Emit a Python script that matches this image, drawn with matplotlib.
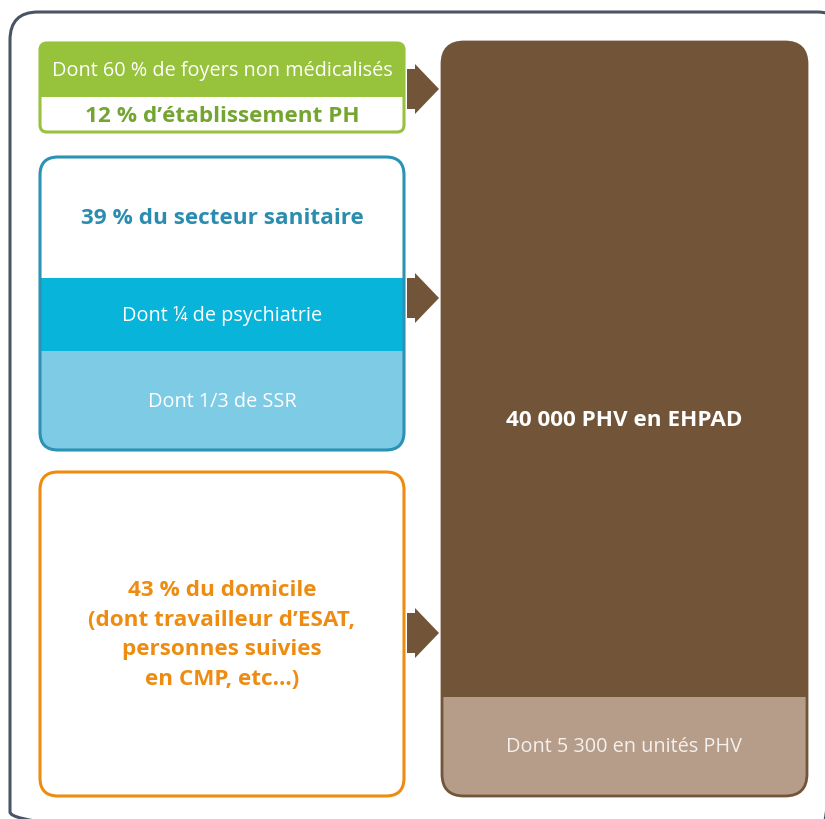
import matplotlib
matplotlib.use("Agg")
import matplotlib.pyplot as plt
from matplotlib.patches import FancyBboxPatch, Rectangle, Polygon

plt.rcParams['font.family'] = ['Open Sans', 'DejaVu Sans']

# Text content
green_labels = ["Dont 60 % de foyers non médicalisés", "12 % d’établissement PH"]
blue_labels = ["39 % du secteur sanitaire", "Dont ¼ de psychiatrie", "Dont 1/3 de SSR"]
orange_labels = ["43 % du domicile", "(dont travailleur d’ESAT,", "personnes suivies", "en CMP, etc…)"]
brown_labels = ["40 000 PHV en EHPAD", "Dont 5 300 en unités PHV"]

W, H = 825, 819
fig = plt.figure(figsize=(W / 100, H / 100), dpi=100)
ax = fig.add_axes([0, 0, 1, 1])
ax.set_xlim(0, W)
ax.set_ylim(H, 0)
ax.axis('off')

BROWN = '#725439'
LBROWN = '#b69d8a'
GREEN = '#97c23b'
DGREEN = '#74a530'
BLUE_BORDER = '#2b92b5'
BLUE_TXT = '#2a8db0'
CYAN = '#09b4da'
LBLUE = '#7ecbe6'
ORANGE = '#ee8c12'
FRAME = '#4a5466'

REG = 14.3
BOLD = 16.2


def rbox(x0, y0, x1, y1, r, fc, ec, lw, z=2):
    p = FancyBboxPatch((x0, y0), x1 - x0, y1 - y0,
                       boxstyle=f"round,pad=0,rounding_size={r}",
                       fc=fc, ec=ec, lw=lw, zorder=z)
    ax.add_patch(p)
    return p


def band(clip, x0, y0, x1, y1, color, z=2.5):
    r = Rectangle((x0, y0), x1 - x0, y1 - y0, fc=color, ec='none', zorder=z)
    ax.add_patch(r)
    r.set_clip_path(clip)


def arrow(yc):
    pts = [(407, yc - 20), (415, yc - 20), (415, yc - 25), (439, yc),
           (415, yc + 25), (415, yc + 20), (407, yc + 20)]
    ax.add_patch(Polygon(pts, closed=True, fc=BROWN, ec='none', zorder=3))


# Outer frame
rbox(10, 12, 845, 840, 28, 'none', FRAME, 2.2, z=1)

# Green box
g = rbox(40, 43, 404, 132, 7, 'white', 'none', 0, z=2)
band(g, 40, 43, 404, 97, GREEN)
rbox(40, 43, 404, 132, 7, 'none', GREEN, 2.2, z=4)
ax.text(222, 71, green_labels[0], color='white', fontsize=REG,
        ha='center', va='center', zorder=5)
ax.text(222, 116, green_labels[1], color=DGREEN, fontsize=BOLD, fontweight='bold',
        ha='center', va='center', zorder=5)

# Blue box
b = rbox(40, 157, 404, 450, 18, 'white', 'none', 0, z=2)
band(b, 40, 278, 404, 351, CYAN)
band(b, 40, 351, 404, 450, LBLUE)
rbox(40, 157, 404, 450, 18, 'none', BLUE_BORDER, 2.2, z=4)
ax.text(222, 218, blue_labels[0], color=BLUE_TXT, fontsize=BOLD, fontweight='bold',
        ha='center', va='center', zorder=5)
ax.text(222, 316, blue_labels[1], color='white', fontsize=REG,
        ha='center', va='center', zorder=5)
ax.text(222, 402, blue_labels[2], color='white', fontsize=REG,
        ha='center', va='center', zorder=5)

# Orange box
rbox(40, 472, 404, 796, 18, 'white', ORANGE, 2.2, z=2)
for i, s in enumerate(orange_labels):
    ax.text(222, 591 + i * 29.5, s, color=ORANGE, fontsize=BOLD, fontweight='bold',
            ha='center', va='center', zorder=5)

# Brown box
br = rbox(442, 42, 807, 796, 22, BROWN, 'none', 0, z=2)
band(br, 442, 697, 807, 796, LBROWN)
rbox(442, 42, 807, 796, 22, 'none', BROWN, 2.0, z=4)
ax.text(624, 420, brown_labels[0], color='white', fontsize=BOLD, fontweight='bold',
        ha='center', va='center', zorder=5)
ax.text(624, 747, brown_labels[1], color='#f5f0ec', fontsize=REG,
        ha='center', va='center', zorder=5)

# Arrows
for yc in (89, 298, 633):
    arrow(yc)

fig.savefig('out.png', dpi=100)
